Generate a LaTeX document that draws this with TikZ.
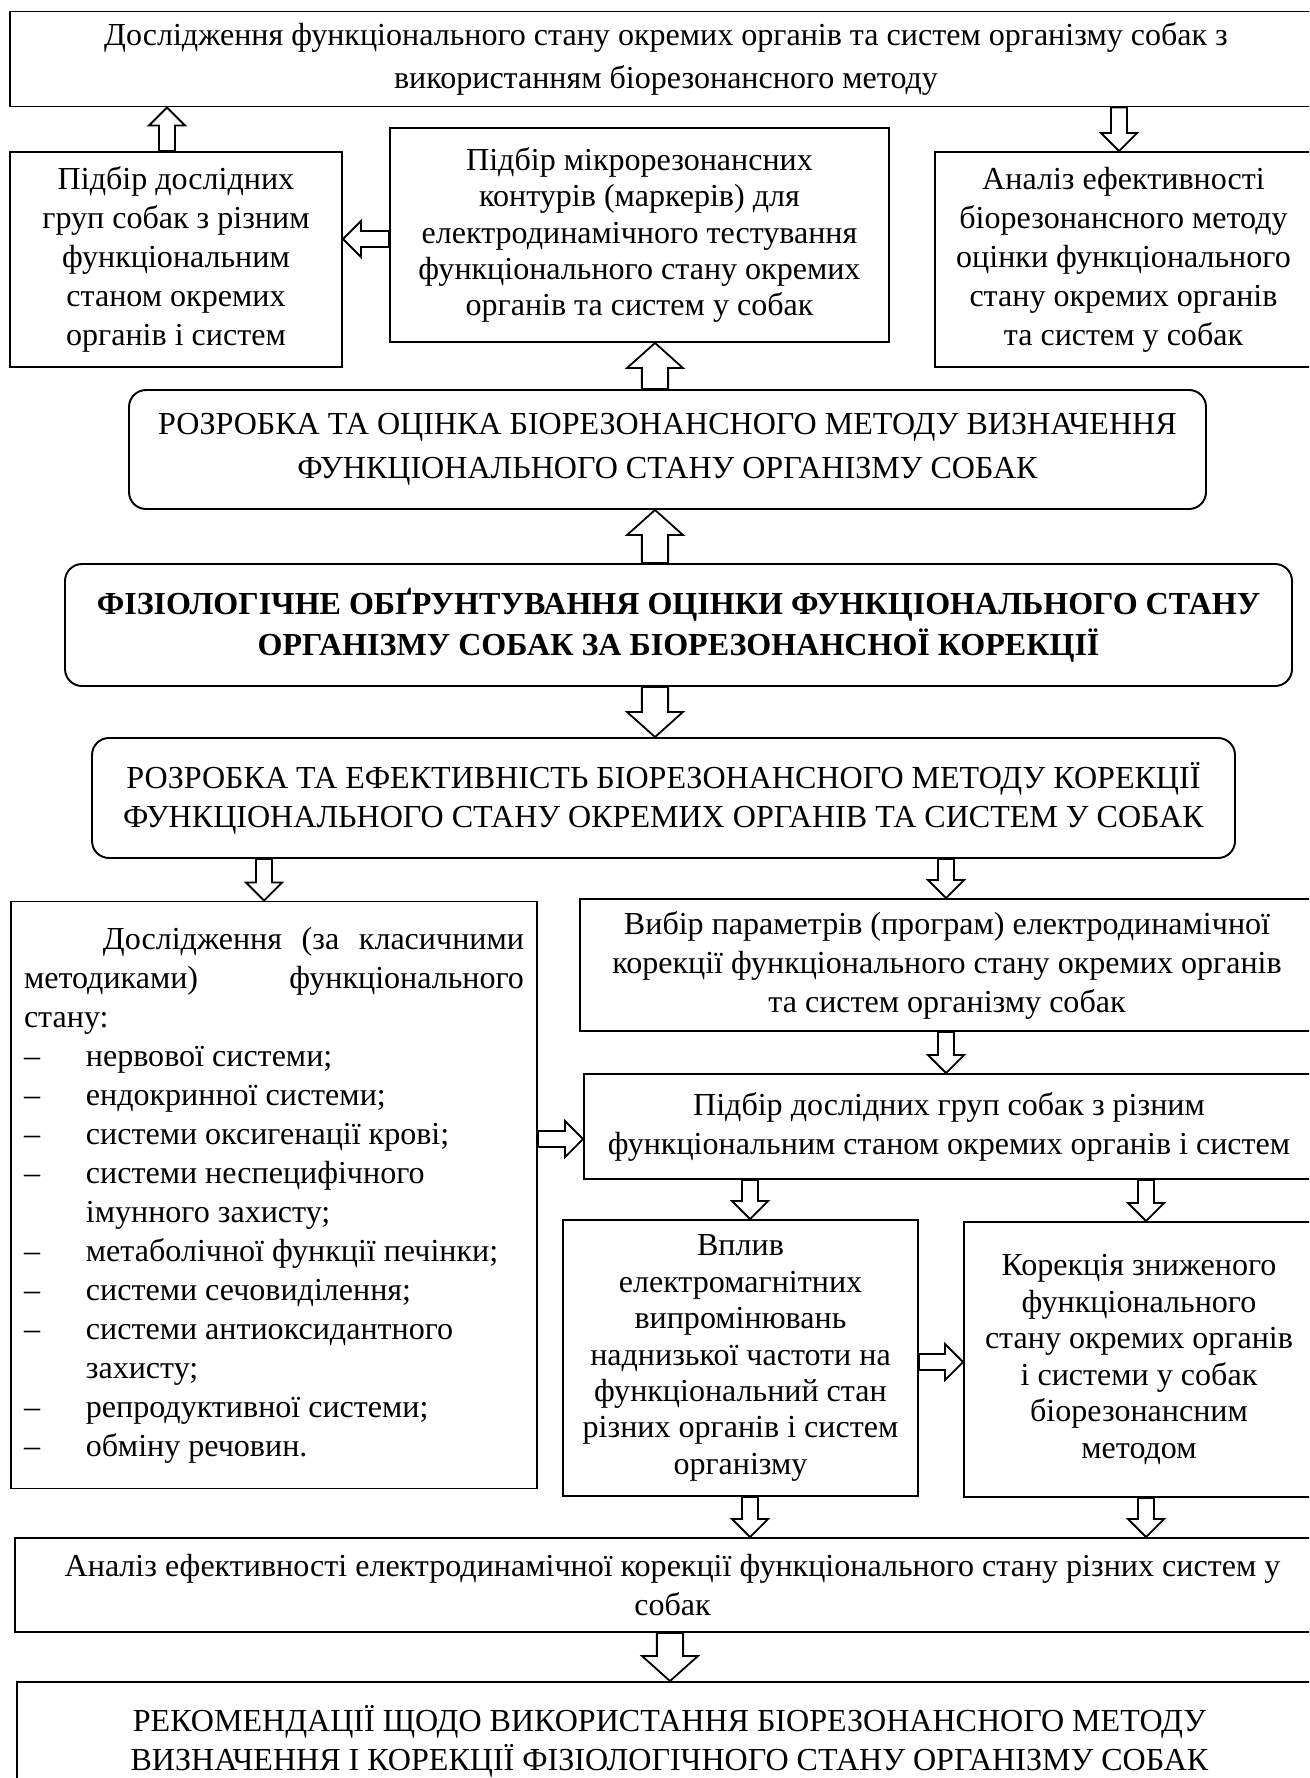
\documentclass[tikz,border=0pt]{standalone}
\usepackage{fontspec}
\setmainfont{Liberation Serif}
\usetikzlibrary{calc}
\def\u{0.4118pt}
\def\blkw{3.3pt}\def\blkh{7.4pt}\def\blkl{7.4pt}
\newlength\doswidth
\setlength\doswidth{205.9pt}
\newcommand\itm{\makebox[25.5pt][l]{–}}

\begin{document}
\begin{tikzpicture}[x=\u, y=-\u,
        every node/.style={font=\fontsize{13.2}{16.06}\selectfont},
        box/.style={draw, line width=0.8pt, align=center, inner sep=0pt},
        rbox/.style={box, rounded corners=7pt},
        wide/.style={font=\fontsize{13.2}{18}\selectfont},
        tight/.style={font=\fontsize{13.2}{15}\selectfont},
        blk/.style={draw, fill=white, line width=0.75pt,
          to path={let \p1=(\tikztostart), \p2=(\tikztotarget),
            \p3=($(\p2)!\blkl!(\p1)$) in
            ($(\p1)!\blkw!-90:(\p2)$) -- ($(\p3)!\blkw!90:(\p1)$)
            -- ($(\p3)!\blkh!90:(\p1)$) -- (\p2)
            -- ($(\p3)!\blkh!-90:(\p1)$) -- ($(\p3)!\blkw!-90:(\p1)$)
            -- ($(\p1)!\blkw!90:(\p2)$) -- cycle}},
        big/.code={\def\blkw{5.4pt}\def\blkh{11.5pt}\def\blkl{10.3pt}},
      ]
      \clip (0,0) rectangle (1309,1778);
      \node[box, wide, minimum width={1312*\u}, minimum height={95*\u}] (top) at (666,59)
        {Дослідження функціонального стану окремих органів та систем організму собак з\\використанням біорезонансного методу};
      \node[box, minimum width={332*\u}, minimum height={215*\u}] (pdL) at (176,259.5)
        {Підбір дослідних\\груп собак з різним\\функціональним\\станом окремих\\органів і систем};
      \node[box, tight, minimum width={499*\u}, minimum height={214*\u}] (mk) at (639.5,235)
        {Підбір мікрорезонансних\\контурів (маркерів) для\\електродинамічного тестування\\функціонального стану окремих\\органів та систем у собак};
      \node[box, minimum width={377*\u}, minimum height={215*\u}] (an) at (1123.5,259.5)
        {Аналіз ефективності\\біорезонансного методу\\оцінки функціонального\\стану окремих органів\\та систем у собак};
      \node[rbox, wide, minimum width={1077*\u}, minimum height={119*\u}] (rb1) at (667.5,449.5)
        {РОЗРОБКА ТА ОЦІНКА БІОРЕЗОНАНСНОГО МЕТОДУ ВИЗНАЧЕННЯ\\ФУНКЦІОНАЛЬНОГО СТАНУ ОРГАНІЗМУ СОБАК};
      \node[rbox, font=\fontsize{13.2}{17}\selectfont\bfseries, minimum width={1227*\u}, minimum height={122*\u}] (fiz) at (678.5,625)
        {ФІЗІОЛОГІЧНЕ ОБҐРУНТУВАННЯ ОЦІНКИ ФУНКЦІОНАЛЬНОГО СТАНУ\\ОРГАНІЗМУ СОБАК ЗА БІОРЕЗОНАНСНОЇ КОРЕКЦІЇ};
      \node[rbox, minimum width={1143*\u}, minimum height={120*\u}] (rb3) at (663.5,798)
        {РОЗРОБКА ТА ЕФЕКТИВНІСТЬ БІОРЕЗОНАНСНОГО МЕТОДУ КОРЕКЦІЇ\\ФУНКЦІОНАЛЬНОГО СТАНУ ОКРЕМИХ ОРГАНІВ ТА СИСТЕМ У СОБАК};
      \node[box, align=flush left, text width=\doswidth, minimum width={526*\u}, minimum height={587*\u}] (dos) at (274,1195)
        {\makebox[\doswidth][l]{\hspace*{32.5pt}Дослідження\hfill (за\hfill класичними}\\
         \makebox[\doswidth][l]{методиками)\hfill функціонального}\\
         стану:\\
         \itm нервової системи;\\
         \itm ендокринної системи;\\
         \itm системи оксигенації крові;\\
         \itm системи неспецифічного\\
         \hspace*{25.5pt}імунного захисту;\\
         \itm \mbox{метаболічної функції печінки;}\\
         \itm системи сечовиділення;\\
         \itm системи антиоксидантного\\
         \hspace*{25.5pt}захисту;\\
         \itm репродуктивної системи;\\
         \itm обміну речовин.};
      \node[box, minimum width={734*\u}, minimum height={132*\u}] (vyb) at (947,965)
        {Вибір параметрів (програм) електродинамічної\\корекції функціонального стану окремих органів\\та систем організму собак};
      \node[box, minimum width={730*\u}, minimum height={105*\u}] (pd2) at (949,1126.5)
        {Підбір дослідних груп собак з різним\\функціональним станом окремих органів і систем};
      \node[box, tight, minimum width={355*\u}, minimum height={276*\u}] (vp) at (740.5,1358)
        {Вплив\\електромагнітних\\випромінювань\\наднизької частоти на\\функціональний стан\\різних органів і систем\\організму};
      \node[box, tight, minimum width={350*\u}, minimum height={275*\u}] (kor) at (1139,1359.5)
        {Корекція зниженого\\функціонального\\стану окремих органів\\і системи у собак\\біорезонансним\\методом};
      \node[box, minimum width={1315*\u}, minimum height={94*\u}] (an2) at (672.5,1585)
        {Аналіз ефективності електродинамічної корекції функціонального стану різних систем у\\собак};
      \node[box, minimum width={1305*\u}, minimum height={118*\u}] (rec) at (669.5,1741)
        {РЕКОМЕНДАЦІЇ ЩОДО ВИКОРИСТАННЯ БІОРЕЗОНАНСНОГО МЕТОДУ\\ВИЗНАЧЕННЯ І КОРЕКЦІЇ ФІЗІОЛОГІЧНОГО СТАНУ ОРГАНІЗМУ СОБАК};
      \draw[blk] (pdL.north -| 167,0) to (top.south -| 167,0);
      \draw[blk] (top.south -| 1119,0) to (an.north -| 1119,0);
      \draw[blk] (mk.west |- 0,239) to (pdL.east |- 0,239);
      \draw[blk,big] (rb1.north -| 655,0) to (mk.south -| 655,0);
      \draw[blk,big] (fiz.north -| 655,0) to (rb1.south -| 655,0);
      \draw[blk,big] (fiz.south -| 655,0) to (rb3.north -| 655,0);
      \draw[blk] (rb3.south -| 264,0) to (dos.north -| 264,0);
      \draw[blk] (rb3.south -| 946,0) to (vyb.north -| 946,0);
      \draw[blk] (vyb.south -| 946,0) to (pd2.north -| 946,0);
      \draw[blk] (dos.east |- 0,1139) to (pd2.west |- 0,1139);
      \draw[blk] (pd2.south -| 750,0) to (vp.north -| 750,0);
      \draw[blk] (pd2.south -| 1146,0) to (kor.north -| 1146,0);
      \draw[blk] (vp.east |- 0,1362) to (kor.west |- 0,1362);
      \draw[blk] (vp.south -| 750,0) to (an2.north -| 750,0);
      \draw[blk] (kor.south -| 1146,0) to (an2.north -| 1146,0);
      \draw[blk,big] (an2.south -| 670,0) to (rec.north -| 670,0);
    \end{tikzpicture}
\end{document}
